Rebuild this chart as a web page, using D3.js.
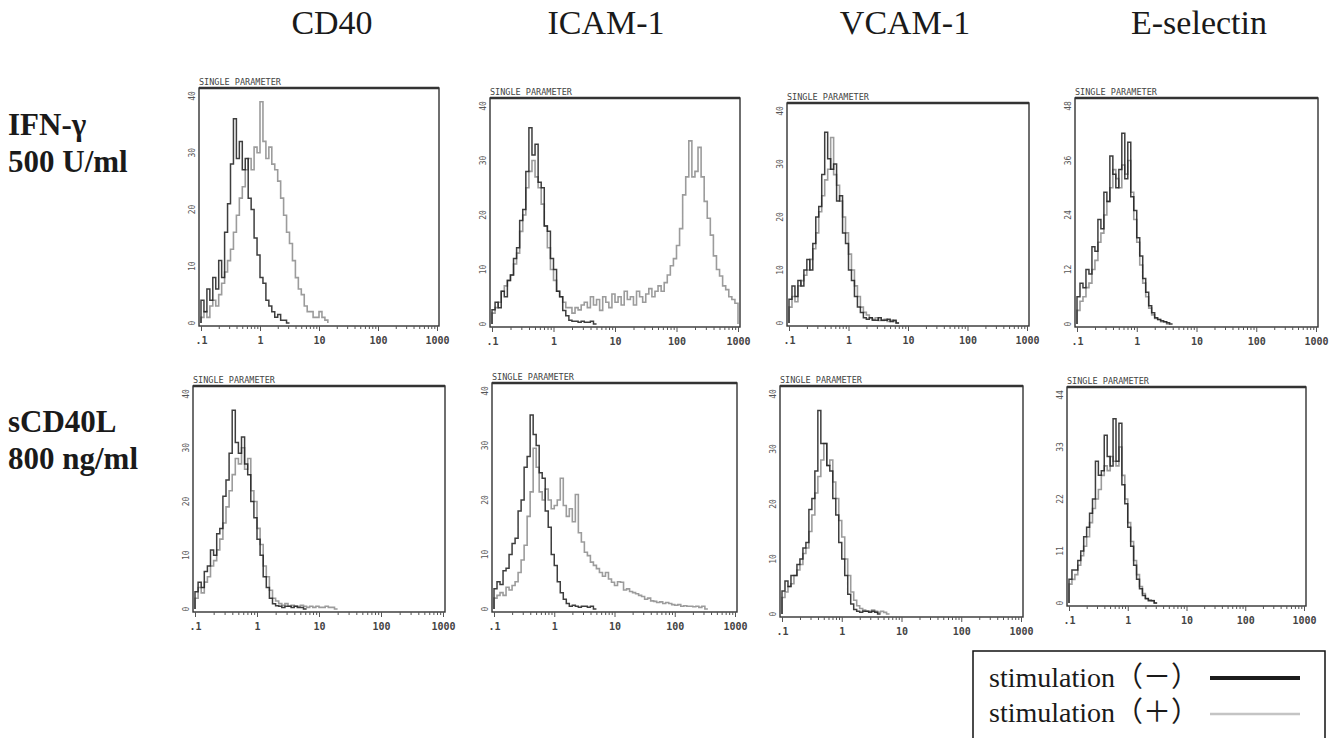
<!DOCTYPE html>
<html>
<head>
<meta charset="utf-8">
<script src="https://cdnjs.cloudflare.com/ajax/libs/d3/7.8.5/d3.min.js"></script>
<style>
	body { margin: 0; background: #fff; }
	svg { display: block; }
</style>
</head>
<body>
<div id="chart"></div>
<script>
const width = 1338,
	height = 738;

const markers = ["CD40", "ICAM-1", "VCAM-1", "E-selectin"];
const treatments = [["IFN-γ", "500 U/ml"], ["sCD40L", "800 ng/ml"]];
const legendLabels = ["stimulation（－）", "stimulation（＋）"];

const xTickValues = [0.1, 1, 10, 100, 1000];
const xTickLabels = [".1", "1", "10", "100", "1000"];
const yTicksRow1 = [[0, 10, 20, 30, 40], [0, 10, 20, 30, 40], [0, 10, 20, 30, 40], [0, 12, 24, 36, 48]];
const yTicksRow2 = [[0, 10, 20, 30, 40], [0, 10, 20, 30, 40], [0, 10, 20, 30, 40], [0, 11, 22, 33, 44]];

// cell counts per channel, 20 channels per decade, first channel starts at 0.1
const cd40IfnNeg = [4, 2, 6, 4, 8, 6, 11, 8, 16, 21, 28, 36, 29, 32, 27, 29, 22, 20, 15, 12, 8, 7, 4, 3, 2, 1, 1.5, 0.5, 0.5, 0];
const cd40IfnPos = [1, 2, 1, 3, 4, 3, 5, 7, 9, 11, 13, 16, 19, 22, 24, 27, 29, 27, 31, 30, 39, 32, 29, 31, 28, 27, 25, 22, 19, 16, 14, 11, 8, 6, 5, 3, 2, 2, 1, 1, 2, 1, 0.5];
const icamIfnNeg = [2.6, 4, 3, 6, 5, 8, 9, 12, 14, 19, 21, 28, 36, 31, 33, 26, 25, 18, 17, 12, 10, 6, 5, 2.5, 1.5, 0.7, 0.5, 0.5, 0.3, 0.5, 0.3, 0.3, 0.5, 0];
const icamIfnPos = [2, 3, 4, 6, 7, 8, 9, 11, 13, 17, 20, 25, 28, 30, 27, 25, 22, 18, 14, 10, 8, 6, 5, 4, 3, 3, 2, 3, 2.6, 3.5,
	4, 3, 5, 3.5, 4.5, 2.5, 5, 4, 3, 5.5, 4, 5, 3.5, 6, 4.5, 5, 3.5, 6, 5, 4,
	5.5, 6.5, 5, 6, 7, 6, 7.6, 9, 10.7, 12, 14.4, 17.5, 23.7, 27, 33.6, 27, 28, 32.4, 27, 22.5,
	19.4, 16.3, 12.5, 10, 8.8, 7, 6.3, 5, 4.5, 3.8];
const vcamIfnNeg = [4.5, 7, 5, 8, 7, 10, 12, 10, 15, 20, 22, 28, 36, 31, 29, 30, 23, 24, 17, 15, 10, 8, 5, 3, 2, 1, 0.7, 1, 0.5, 0.5, 1, 0.5, 0.5, 0.7, 0.3, 0.5, 0];
const vcamIfnPos = [3, 5, 4, 7, 8, 9, 10, 12, 14, 17, 21, 24, 27, 29, 35, 28, 26, 23, 20, 17, 13, 10, 7, 5, 3, 2, 1.5, 1, 0.7, 1, 0.5, 0.5, 0.7, 0.3, 0.5, 0.3, 0];
const eselIfnNeg = [6, 9, 8, 12, 11, 17, 16, 23, 21, 29, 27, 37, 33, 30, 34, 42, 32, 40, 28, 25, 19, 15, 10, 7, 4, 2.5, 1.4, 1, 0.7, 0.5, 0.3, 0];
const eselIfnPos = [3, 5, 6, 8, 9, 12, 14, 18, 20, 24, 27, 30, 34, 32, 30, 35, 33, 36, 29, 23, 18, 13, 9, 6, 3.5, 2, 1.2, 1, 0.5, 0.5, 0];

const cd40LNeg = [3.2, 5, 4, 7, 8, 11, 10, 14, 15, 21, 24, 29, 37, 31, 29, 32, 27, 25, 20, 17, 13, 10, 6, 4, 2, 1, 0.6, 0.5, 0.3, 0.5, 0.5, 0.3, 0.5, 0.3, 0.3, 0];
const cd40LPos = [2, 4, 3, 5, 6, 8, 9, 11, 13, 16, 19, 22, 25, 28, 27, 30, 26, 28, 22, 20, 15, 12, 8, 6, 3.5, 2, 1.5, 1, 0.7, 1, 0.5, 0.7, 0.5, 0.5, 0.7, 0.5, 0.3, 0.5, 0.3, 0.5, 0.3, 0.3, 0.5, 0.3, 0.3, 0];
const icamLNeg = [3.7, 5, 4.5, 7, 7.5, 10, 12, 13, 18, 20, 26, 28, 35.6, 32, 30, 25, 24, 18, 15, 10, 8, 5, 3, 1.8, 1, 0.5, 0.7, 0.5, 0.3, 0.5, 0.5, 0.3, 0.5, 0];
const icamLPos = [2, 2.5, 3, 2.5, 4, 3.5, 4.3, 5, 6.7, 9, 11.7, 17, 21.5, 29.5, 26, 21.5, 20, 22, 20, 18.4,
	19, 20, 24, 19, 17, 18.4, 16, 21, 14, 12.3, 10.4, 9.8, 8.6, 8, 7.4, 6.7, 6, 6.7, 5.5, 4.9,
	4.3, 5, 4.9, 3.5, 3.7, 3.2, 3, 2.8, 2.5, 2.3, 1.8, 2, 1.5, 1.4, 1.2, 1.3, 1, 1.2, 1, 0.8,
	0.7, 0.8, 0.5, 0.6, 0.5, 0.5, 0.4, 0.5, 0.3, 0.5, 0];
const vcamLNeg = [4.2, 6, 5, 7, 7, 9, 10, 12, 13, 19, 21, 26, 37, 31, 31, 27, 26, 21, 18, 13, 10, 7, 3.6, 1.8, 0.8, 0.5, 0.3, 0.5, 0.5, 0.3, 0.5, 0.3, 0];
const vcamLPos = [3, 4, 5, 5.5, 7, 8, 9, 11, 12, 15, 18, 22, 25, 28, 31, 27, 28, 24, 21, 17, 14, 10, 7, 4, 2.5, 1.5, 1, 0.7, 0.5, 0.5, 0.7, 0.5, 0.3, 0.5, 0.3, 0];
const eselLNeg = [5, 7, 7, 9, 11, 14, 16, 19, 22, 30, 27, 28, 35.5, 31, 29, 39, 30, 38, 25, 21, 16, 12, 8, 5, 3, 1.6, 0.9, 0.5, 0.5, 0];
const eselLPos = [4, 5, 6, 8, 10, 12, 14, 17, 20, 22, 24, 27, 29, 28, 31, 30, 29, 33, 27, 22, 17, 13, 9, 6, 3.5, 2, 1, 0.7, 0.5, 0];

const negSeries = [[cd40IfnNeg, icamIfnNeg, vcamIfnNeg, eselIfnNeg], [cd40LNeg, icamLNeg, vcamLNeg, eselLNeg]];
const posSeries = [[cd40IfnPos, icamIfnPos, vcamIfnPos, eselIfnPos], [cd40LPos, icamLPos, vcamLPos, eselLPos]];
const yTicks = [yTicksRow1, yTicksRow2];

// panel frames as [left, top, right, bottom] (scanned panels are not quite aligned)
const panelBoxes = [
	[[199, 88, 439, 326], [490, 98, 740, 327], [787, 103, 1029, 326], [1075, 98, 1318, 327]],
	[[193, 386, 445, 612], [492, 383, 737, 612], [780, 386, 1023, 617], [1067, 387, 1306, 606]]
];
const headerX = [332, 606, 905, 1199];

const darkColor = "#1c1c1c",
	lightColor = "#9c9c9c";
const binsPerDecade = 20;

const svg = d3
	.select("#chart")
	.append("svg")
	.attr("width", width)
	.attr("height", height);

// column headers
svg.append("g")
	.selectAll("text")
	.data(markers)
	.join("text")
	.attr("x", (d, i) => headerX[i])
	.attr("y", 34)
	.attr("text-anchor", "middle")
	.attr("font-family", "Liberation Serif, serif")
	.attr("font-size", 34)
	.attr("fill", "#1a1a1a")
	.text((d) => d);

// row labels
const rowBase = [135, 432];
treatments.forEach((lines, r) => {
	svg.append("g")
		.selectAll("text")
		.data(lines)
		.join("text")
		.attr("x", 8)
		.attr("y", (d, k) => rowBase[r] + k * 37)
		.attr("font-family", "Liberation Serif, serif")
		.attr("font-weight", "bold")
		.attr("font-size", 31)
		.attr("fill", "#1a1a1a")
		.text((d) => d);
});

const minorTicks = [];
[0.1, 1, 10, 100].forEach((dec) => {
	for (let m = 2; m <= 9; m++) minorTicks.push(dec * m);
});

const drawPanel = (r, c) => {
	const [left, top, right, bottom] = panelBoxes[r][c];
	const ticks = yTicks[r][c];
	const yMax = ticks[ticks.length - 1];

	const x = d3.scaleLog().domain([0.1, 1000]).range([left + 2, right - 2]);
	const y = d3.scaleLinear().domain([0, yMax]).range([bottom - 3, top + 8]);

	const g = svg.append("g");
	const clipId = `clip-${r}-${c}`;
	g.append("clipPath")
		.attr("id", clipId)
		.append("rect")
		.attr("x", left)
		.attr("y", top)
		.attr("width", right - left)
		.attr("height", bottom - top);

	const stepPoints = (counts) => {
		const pts = [[0, 0]];
		counts.forEach((v, i) => {
			pts.push([i, v]);
			pts.push([i + 1, v]);
		});
		pts.push([counts.length, 0]);
		return pts;
	};
	const line = d3
		.line()
		.x((d) => x(0.1 * Math.pow(10, d[0] / binsPerDecade)))
		.y((d) => y(d[1]));

	const plot = g.append("g").attr("clip-path", `url(#${clipId})`);
	plot.append("path")
		.attr("d", line(stepPoints(posSeries[r][c])))
		.attr("fill", "none")
		.attr("stroke", lightColor)
		.attr("stroke-width", 1.6);
	plot.append("path")
		.attr("d", line(stepPoints(negSeries[r][c])))
		.attr("fill", "none")
		.attr("stroke", darkColor)
		.attr("stroke-opacity", 0.85)
		.attr("stroke-width", 1.5);

	// frame
	g.append("rect")
		.attr("x", left)
		.attr("y", top)
		.attr("width", right - left)
		.attr("height", bottom - top)
		.attr("fill", "none")
		.attr("stroke", "#333")
		.attr("stroke-width", 1.4);
	g.append("line")
		.attr("x1", left)
		.attr("x2", right)
		.attr("y1", top)
		.attr("y2", top)
		.attr("stroke", "#333")
		.attr("stroke-width", 2.4);

	g.append("text")
		.attr("x", left)
		.attr("y", top - 3)
		.attr("font-family", "DejaVu Sans Mono, monospace")
		.attr("font-size", 8.5)
		.attr("fill", "#444")
		.text("SINGLE PARAMETER");

	// x axis
	const axisMinor = d3.axisBottom(x).tickValues(minorTicks).tickSize(3).tickFormat("");
	const axisMajor = d3
		.axisBottom(x)
		.tickValues(xTickValues)
		.tickSize(5)
		.tickFormat((d, i) => xTickLabels[i]);
	[axisMinor, axisMajor].forEach((ax) => {
		const a = g.append("g").attr("transform", `translate(0,${bottom})`).call(ax);
		a.select(".domain").remove();
		a.selectAll("line").attr("stroke", "#555").attr("stroke-width", 1);
		a.selectAll("text")
			.attr("font-family", "DejaVu Sans Mono, monospace")
			.attr("font-size", 10)
			.attr("font-weight", "bold")
			.attr("fill", "#444")
			.attr("dy", "0.95em");
	});

	// y axis labels, rotated as on the cytometer printout
	g.append("g")
		.selectAll("text")
		.data(ticks)
		.join("text")
		.attr("transform", (d) => `translate(${left - 4},${y(d)}) rotate(-90)`)
		.attr("text-anchor", "middle")
		.attr("font-family", "DejaVu Sans Mono, monospace")
		.attr("font-size", 8)
		.attr("fill", "#555")
		.text((d) => d);
};

for (let r = 0; r < 2; r++) {
	for (let c = 0; c < 4; c++) drawPanel(r, c);
}

// legend
const legend = svg.append("g");
legend.append("rect")
	.attr("x", 973)
	.attr("y", 651)
	.attr("width", 352)
	.attr("height", 110)
	.attr("fill", "#fff")
	.attr("stroke", "#111")
	.attr("stroke-width", 1.5);
legend.selectAll("text")
	.data(legendLabels)
	.join("text")
	.attr("x", 989)
	.attr("y", (d, i) => 687 + i * 35)
	.attr("font-family", "Liberation Serif, Noto Sans CJK JP, serif")
	.attr("font-size", 28)
	.attr("fill", "#1a1a1a")
	.text((d) => d);
legend.selectAll("line")
	.data([darkColor, "#c4c4c4"])
	.join("line")
	.attr("x1", 1210)
	.attr("x2", 1300)
	.attr("y1", (d, i) => 678 + i * 36)
	.attr("y2", (d, i) => 678 + i * 36)
	.attr("stroke", (d) => d)
	.attr("stroke-width", (d, i) => (i === 0 ? 4 : 2.5));
</script>
</body>
</html>
